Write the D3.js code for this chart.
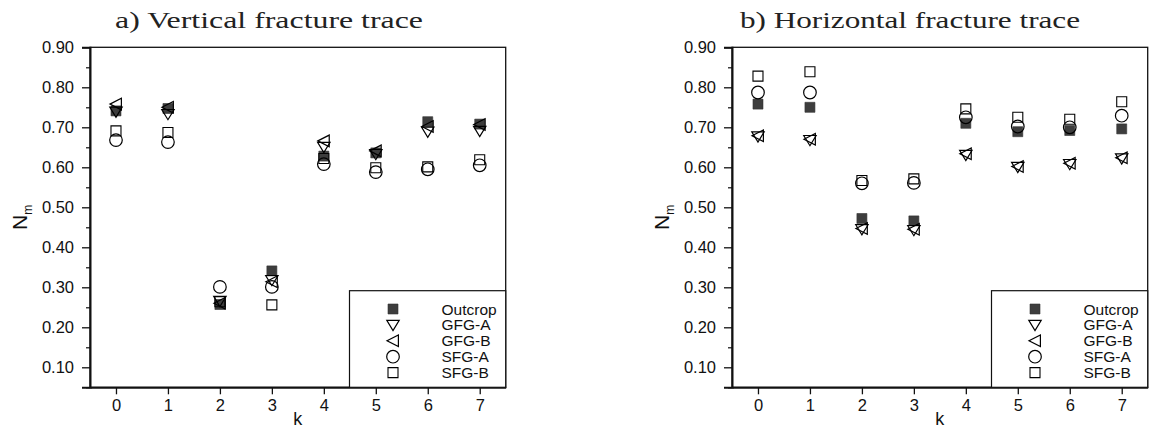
<!DOCTYPE html>
<html>
<head>
<meta charset="utf-8">
<script src="https://cdn.jsdelivr.net/npm/d3@7"></script>
<style>
  html, body { margin: 0; padding: 0; background: #fff; }
  svg { display: block; }
</style>
</head>
<body>
<svg id="chart" width="1149" height="430"></svg>
<script>
// Fracture network match measure N_m against order k
const kValues = [0, 1, 2, 3, 4, 5, 6, 7];
const yTickValues = [0.10, 0.20, 0.30, 0.40, 0.50, 0.60, 0.70, 0.80, 0.90];
const yMinorValues = [0.05, 0.15, 0.25, 0.35, 0.45, 0.55, 0.65, 0.75, 0.85];
const seriesNames = ["Outcrop", "GFG-A", "GFG-B", "SFG-A", "SFG-B"];

// a) vertical fracture trace
const outcropV = [0.741, 0.747, 0.257, 0.341, 0.628, 0.636, 0.714, 0.708];
const gfgAV    = [0.739, 0.733, 0.266, 0.318, 0.651, 0.633, 0.689, 0.691];
const gfgBV    = [0.758, 0.750, 0.260, 0.314, 0.666, 0.641, 0.702, 0.707];
const sfgAV    = [0.668, 0.663, 0.301, 0.301, 0.608, 0.588, 0.595, 0.605];
const sfgBV    = [0.691, 0.687, 0.264, 0.256, 0.622, 0.599, 0.601, 0.619];

// b) horizontal fracture trace
const outcropH = [0.758, 0.750, 0.472, 0.466, 0.710, 0.689, 0.692, 0.696];
const gfgAH    = [0.677, 0.668, 0.445, 0.443, 0.631, 0.601, 0.608, 0.622];
const gfgBH    = [0.679, 0.670, 0.447, 0.445, 0.634, 0.602, 0.610, 0.624];
const sfgAH    = [0.787, 0.787, 0.560, 0.561, 0.725, 0.702, 0.700, 0.729];
const sfgBH    = [0.828, 0.839, 0.567, 0.571, 0.746, 0.725, 0.720, 0.764];

const panels = [
  { title: "a) Vertical fracture trace", left: 90, titleX: 115, titleLen: 308,
    series: [outcropV, gfgAV, gfgBV, sfgAV, sfgBV] },
  { title: "b) Horizontal fracture trace", left: 732, titleX: 740, titleLen: 340,
    series: [outcropH, gfgAH, gfgBH, sfgAH, sfgBH] }
];

const W = 415.7, TOP = 47.3, BOTTOM = 387.3;
const sansFont = "'Liberation Sans', Arial, Helvetica, sans-serif";
const serifFont = "'Liberation Serif', 'Times New Roman', serif";

// marker shapes, one per series
const markers = [
  { path: "M-5,-5H5V5H-5Z", fill: "#3d3d3d", stroke: "#333", sw: 0.6 },
  { path: "M-6.2,-4.6L6.2,-4.6L0,5.6Z", fill: "none", stroke: "#000", sw: 1.2 },
  { path: "M-6,0L5.4,-5.8L5.4,5.8Z", fill: "none", stroke: "#000", sw: 1.2 },
  { circle: 6.3, fill: "none", stroke: "#000", sw: 1.2 },
  { path: "M-5,-5H5V5H-5Z", fill: "none", stroke: "#000", sw: 1.1 }
];

const svg = d3.select("#chart");

function drawMarker(sel, m) {
  if (m.circle) {
    sel.append("circle").attr("r", m.circle);
  } else {
    sel.append("path").attr("d", m.path);
  }
  sel.selectAll("*")
    .attr("fill", m.fill)
    .attr("stroke", m.stroke)
    .attr("stroke-width", m.sw);
}

panels.forEach(p => {
  const x = d3.scaleLinear().domain([-0.5, 7.5]).range([p.left, p.left + W]);
  const y = d3.scaleLinear().domain([0.05, 0.90]).range([BOTTOM, TOP]);
  const g = svg.append("g");

  // title
  g.append("text")
    .attr("x", p.titleX).attr("y", 27.5)
    .attr("font-family", serifFont).attr("font-size", 24)
    .attr("textLength", p.titleLen).attr("lengthAdjust", "spacingAndGlyphs")
    .attr("fill", "#222")
    .text(p.title);

  // frame (top and right)
  g.append("rect")
    .attr("x", x(-0.5)).attr("y", y(0.90))
    .attr("width", x(7.5) - x(-0.5)).attr("height", y(0.05) - y(0.90))
    .attr("fill", "none").attr("stroke", "#111").attr("stroke-width", 1.3);

  // y axis
  const yAxis = g.append("g").attr("transform", `translate(${x(-0.5)},0)`)
    .call(d3.axisLeft(y).tickValues(yTickValues).tickFormat(d3.format(".2f"))
      .tickSize(8).tickPadding(8));
  yAxis.select(".domain").attr("stroke-width", 2).attr("stroke", "#111");
  yAxis.selectAll(".tick line").attr("stroke-width", 1.3).attr("stroke", "#111");
  yAxis.selectAll(".tick text")
    .attr("font-family", sansFont).attr("font-size", 16.5).attr("fill", "#111");
  g.append("g").attr("transform", `translate(${x(-0.5)},0)`)
    .call(d3.axisLeft(y).tickValues(yMinorValues).tickFormat("").tickSize(4))
    .call(a => a.select(".domain").remove())
    .selectAll(".tick line").attr("stroke-width", 1.2).attr("stroke", "#111");

  // x axis
  const xAxis = g.append("g").attr("transform", `translate(0,${y(0.05)})`)
    .call(d3.axisBottom(x).tickValues(kValues).tickFormat(d3.format("d"))
      .tickSize(7).tickPadding(5).tickSizeOuter(0));
  xAxis.select(".domain").attr("stroke-width", 2).attr("stroke", "#111");
  xAxis.selectAll(".tick line").attr("stroke-width", 1.3).attr("stroke", "#111");
  xAxis.selectAll(".tick text")
    .attr("font-family", sansFont).attr("font-size", 16.5).attr("fill", "#111");

  // axis labels
  g.append("text")
    .attr("x", (x(-0.5) + x(7.5)) / 2).attr("y", 425)
    .attr("text-anchor", "middle")
    .attr("font-family", sansFont).attr("font-size", 18).attr("fill", "#111")
    .text("k");
  const yl = g.append("text")
    .attr("transform", `translate(${p.left - 63},${(TOP + BOTTOM) / 2}) rotate(-90)`)
    .attr("text-anchor", "middle")
    .attr("font-family", sansFont).attr("font-size", 21).attr("fill", "#111");
  yl.append("tspan").text("N");
  yl.append("tspan").attr("font-size", 12).attr("dy", 5).text("m");

  // legend
  const lg = g.append("g").attr("transform", `translate(${p.left + 259.5},${TOP + 243.4})`);
  lg.append("rect")
    .attr("width", W - 259.5).attr("height", BOTTOM - TOP - 243.4)
    .attr("fill", "#fff").attr("stroke", "#111").attr("stroke-width", 1.2);
  seriesNames.forEach((name, i) => {
    const row = lg.append("g").attr("transform", `translate(0,${18.3 + i * 15.9})`);
    drawMarker(row.append("g").attr("transform", "translate(43.5,0)"), markers[i]);
    row.append("text")
      .attr("x", 92).attr("dy", "0.36em")
      .attr("font-family", sansFont).attr("font-size", 15.5).attr("fill", "#111")
      .text(name);
  });

  // data markers
  p.series.forEach((vals, si) => {
    const sg = g.append("g");
    vals.forEach((v, i) => {
      drawMarker(sg.append("g").attr("transform", `translate(${x(kValues[i])},${y(v)})`), markers[si]);
    });
  });
});
</script>
</body>
</html>
